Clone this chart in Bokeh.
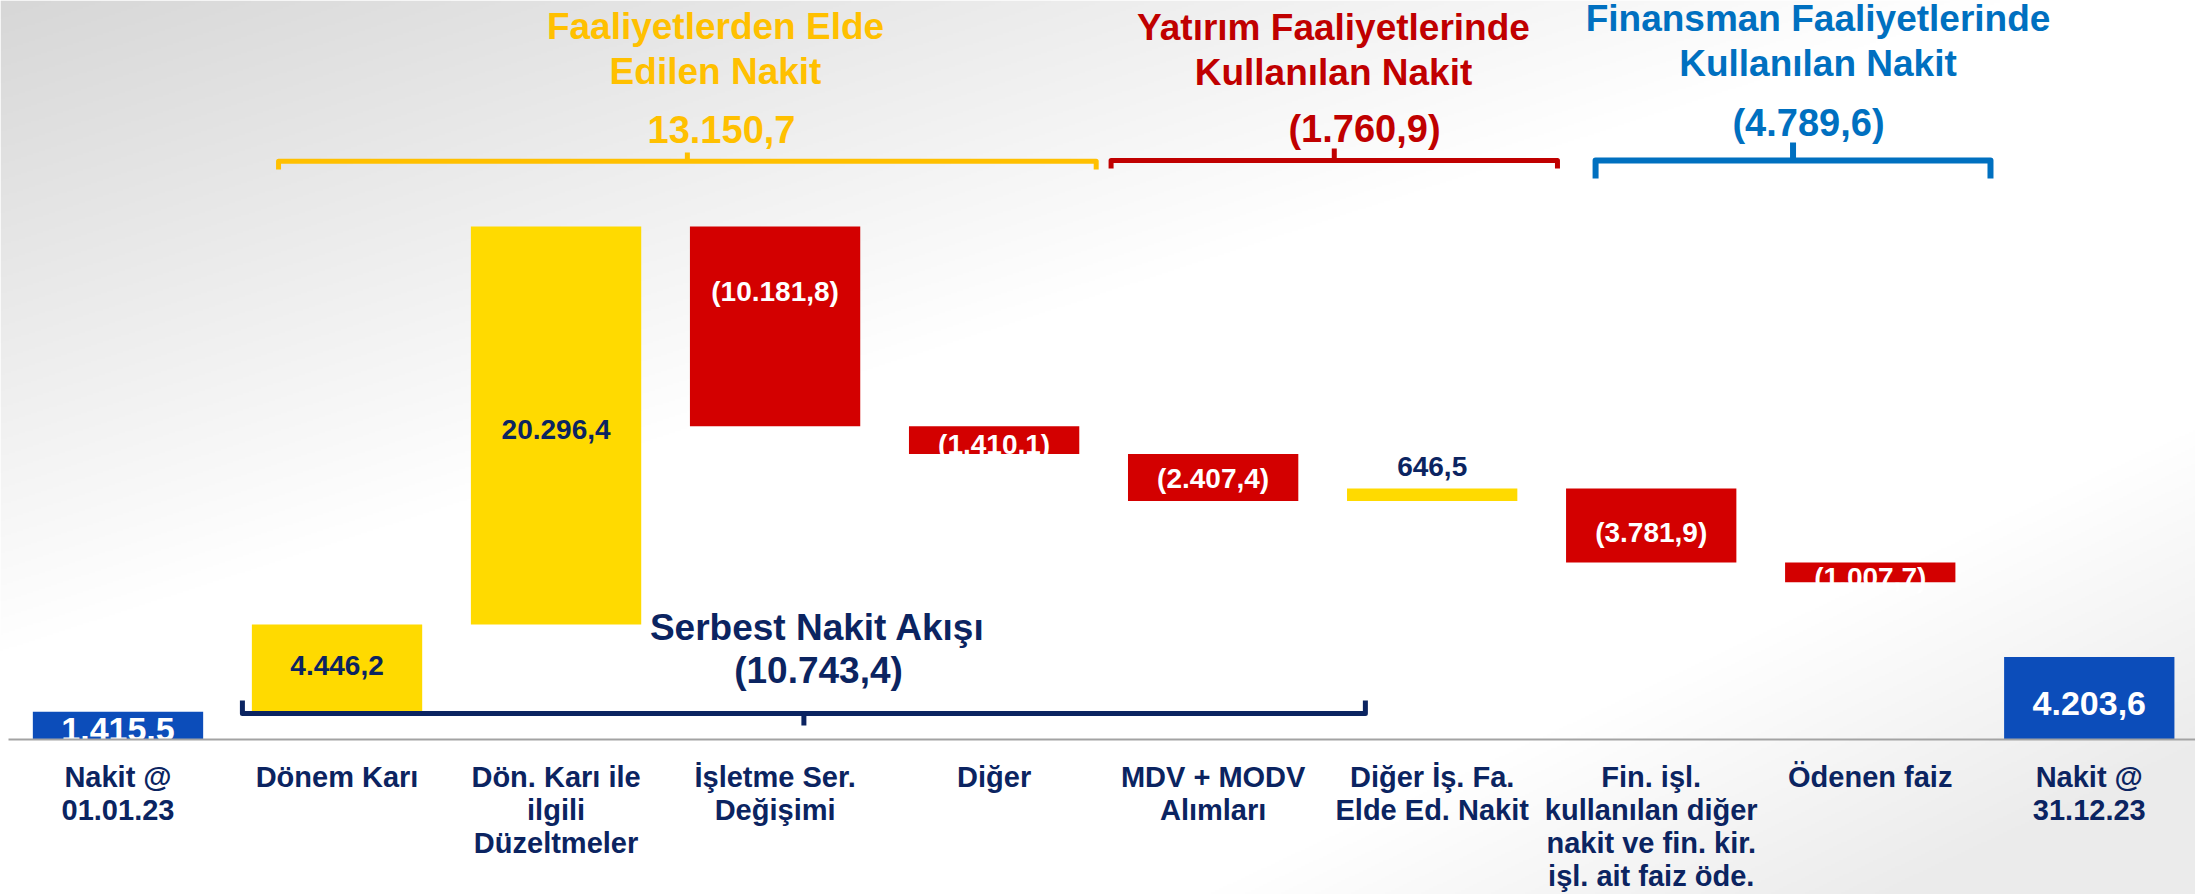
import numpy as np
from bokeh.plotting import figure
from bokeh.models import Range1d
from bokeh.core.properties import value
from bokeh.embed import file_html
from bokeh.resources import INLINE

# ---------------- data ----------------
categories = [
    "Nakit @\n01.01.23",
    "Dönem Karı",
    "Dön. Karı ile\nilgili\nDüzeltmeler",
    "İşletme Ser.\nDeğişimi",
    "Diğer",
    "MDV + MODV\nAlımları",
    "Diğer İş. Fa.\nElde Ed. Nakit",
    "Fin. işl.\nkullanılan diğer\nnakit ve fin. kir.\nişl. ait faiz öde.",
    "Ödenen faiz",
    "Nakit @\n31.12.23",
]
start_cash = 1415.5
changes = [4446.2, 20296.4, -10181.8, -1410.1, -2407.4, 646.5, -3781.9, -1007.7]
end_cash = 4203.6

group_titles = ["Faaliyetlerden Elde\nEdilen Nakit",
                "Yatırım Faaliyetlerinde\nKullanılan Nakit",
                "Finansman Faaliyetlerinde\nKullanılan Nakit"]
group_members = [[1, 2, 3, 4], [5, 6], [7, 8]]
group_totals = [13150.7, -1760.9, -4789.6]
fcf_title = "Serbest Nakit Akışı"
fcf_members = [1, 2, 3, 4, 5]
fcf_total = -10743.4   # shown in parentheses on the reference

# ---------------- styles ----------------
NAVY = "#0B2461"
YELLOW_BAR = "#FFDA00"
RED_BAR = "#D30000"
BLUE_BAR = "#0C4DBA"
group_colors = ["#FFC000", "#C00000", "#0070C0"]
FONT = value("Liberation Sans")
TS = -8  # systematic text baseline correction (px)

W, H = 2195, 894
CX0, CSTEP = 117.5, 219.03
BASE_Y, UNITS_PER_PX = 739.0, 51.0


def X(sx):
    return (sx - CX0) / CSTEP


def Y(sy):
    return (BASE_Y - sy) * UNITS_PER_PX


def fmt(v):
    s = f"{abs(v):,.1f}".replace(",", "X").replace(".", ",").replace("X", ".")
    return f"({s})" if v < 0 else s


p = figure(width=W, height=H, x_range=Range1d(X(0), X(W)),
           y_range=Range1d(Y(H), Y(0)), output_backend="svg",
           toolbar_location=None, x_axis_type=None, y_axis_type=None,
           min_border=0, outline_line_color=None)
p.grid.visible = False
p.background_fill_color = "white"
p.border_fill_color = "white"

# ---------------- background gradient ----------------
iw, ih = 1098, 447
sxg = np.linspace(0, W, iw)[None, :]
syg = np.linspace(H, 0, ih)[:, None]
g1 = np.clip(1 - (sxg / 2000 + syg / 650), 0, 1) * 40
g2 = np.clip((sxg - 1500) / 700 + (syg - 560) / 330 - 0.6, 0, 1) * 20
gray = np.clip(255 - g1 - g2, 0, 255).astype(np.uint32)
img = (255 << 24) | (gray << 16) | (gray << 8) | gray
p.image_rgba(image=[img.astype(np.uint32)], x=X(0), y=Y(H),
             dw=X(W) - X(0), dh=Y(0) - Y(H))

# ---------------- waterfall bars ----------------
n = len(categories)
xs = list(range(n))
bottoms, tops, colors, vals = [0.0], [start_cash], [BLUE_BAR], [start_cash]
run = start_cash
for d in changes:
    bottoms.append(run)
    tops.append(run + d)
    colors.append(YELLOW_BAR if d > 0 else RED_BAR)
    vals.append(d)
    run += d
bottoms.append(0.0)
tops.append(end_cash)
colors.append(BLUE_BAR)
vals.append(end_cash)

p.vbar(x=xs, bottom=bottoms, top=tops, width=0.7776, fill_color=colors,
       line_color=None)

# ---------------- value labels ----------------
label_dy = [0, -5, 2, -37, 2, -1, -30, 5, 3, 1]  # px shift of label centre
for i in range(n):
    mid = (bottoms[i] + tops[i]) / 2
    big = i in (0, n - 1)
    fs = 34 if big else 28
    col = "white" if (big or vals[i] < 0) else NAVY
    p.text(x=[i], y=[mid], text=[fmt(vals[i])], text_font=FONT,
           text_font_style="bold", text_font_size=f"{fs}px",
           text_color=col, text_align="center", text_baseline="alphabetic",
           y_offset=label_dy[i] + 0.358 * fs + TS)

# baseline (drawn over the start-bar label like the reference)
p.line(x=[X(8), X(W)], y=[0, 0], line_color="#A3A3A3", line_width=2)

# ---------------- category labels ----------------
lx, lt, lo = [], [], []
for i, c in enumerate(categories):
    for j, line in enumerate(c.split("\n")):
        lx.append(i)
        lt.append(line)
        lo.append(45.0 + 33.3 * j + TS)
p.text(x=lx, y=[0] * len(lx), text=lt, y_offset=lo, text_font=FONT,
       text_font_style="bold", text_font_size="29px", text_color=NAVY,
       text_align="center", text_baseline="alphabetic")


# ---------------- brackets ----------------
def bracket(x0, x1, ymid, yend, ytick, color, lw):
    xc = (x0 + x1) / 2
    p.line(x=[x0, x0, x1, x1], y=[yend, ymid, ymid, yend],
           line_color=color, line_width=lw, line_join="round",
           line_cap="butt")
    p.line(x=[xc, xc], y=[ymid, ytick], line_color=color, line_width=lw,
           line_cap="butt")


bracket_pads = [(0.267, 0.466), (0.466, 0.572), (0.254, 0.549)]
bracket_geo = [(160.8, 169, 152, 5), (160, 168, 148, 5), (160, 178, 142, 6)]
title_cx = [715, 1333, 1817.5]
title_base = [34, 35, 26]
num_cx = [721, 1364, 1808]
num_base = [136.5, 136.5, 130]

for g, mem in enumerate(group_members):
    lp, rp = bracket_pads[g]
    ym, ye, yt, lw = bracket_geo[g]
    bracket(min(mem) - lp, max(mem) + rp, Y(ym), Y(ye), Y(yt),
            group_colors[g], lw)
    for j, line in enumerate(group_titles[g].split("\n")):
        p.text(x=[X(title_cx[g])], y=[Y(title_base[g] + 45 * j)], text=[line],
               text_font=FONT, text_font_style="bold", text_font_size="37px",
               text_color=group_colors[g], text_align="center",
               text_baseline="alphabetic", y_offset=TS)
    p.text(x=[X(num_cx[g])], y=[Y(num_base[g])], text=[fmt(group_totals[g])],
           text_font=FONT, text_font_style="bold", text_font_size="38px",
           text_color=group_colors[g], text_align="center",
           text_baseline="alphabetic", y_offset=TS)

# free cash flow bracket (below, inverted)
bracket(min(fcf_members) - 0.432, max(fcf_members) + 0.695, Y(713), Y(700),
        Y(725), NAVY, 5)
p.text(x=[X(817)], y=[Y(635)], text=[fcf_title], text_font=FONT,
       text_font_style="bold", text_font_size="37px", text_color=NAVY,
       text_align="center", text_baseline="alphabetic", y_offset=TS)
p.text(x=[X(818)], y=[Y(678)], text=[fmt(fcf_total)],
       text_font=FONT, text_font_style="bold", text_font_size="37px",
       text_color=NAVY, text_align="center", text_baseline="alphabetic",
       y_offset=TS)

open("out.html", "w").write(file_html(p, INLINE))
